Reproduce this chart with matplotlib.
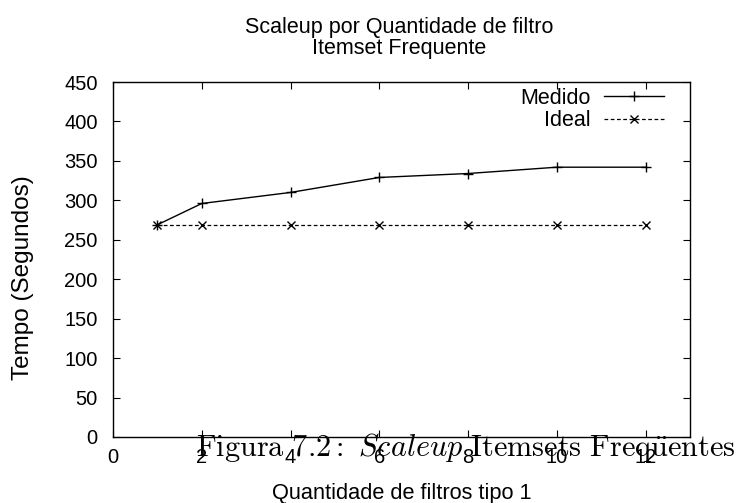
import matplotlib
matplotlib.use("Agg")
import matplotlib.pyplot as plt

plt.rcParams['font.family'] = ['Liberation Sans', 'DejaVu Sans']
plt.rcParams['mathtext.fontset'] = 'cm'

x_values = [1, 2, 4, 6, 8, 10, 12]
medido = [269, 296, 310, 329, 334, 342, 342]
ideal = [269, 269, 269, 269, 269, 269, 269]
x_ticks = [0, 2, 4, 6, 8, 10, 12]
y_ticks = [0, 50, 100, 150, 200, 250, 300, 350, 400, 450]

W, H = 737, 503
fig = plt.figure(figsize=(W/100, H/100), dpi=100)
ax = fig.add_axes([113/W, 1 - 437/H, (690-113)/W, (437-82)/H])

ax.plot(x_values, medido, color='black', linewidth=1.0, marker='+', markersize=7,
        markeredgewidth=1.0, label='Medido')
ax.plot(x_values, ideal, color='black', linewidth=0.9, linestyle=(0, (3, 2)), marker='x',
        markersize=6, markeredgewidth=1.0, label='Ideal')

ax.set_xlim(0, 13)
ax.set_ylim(0, 450)
ax.set_xticks(x_ticks)
ax.set_yticks(y_ticks)
ax.tick_params(direction='in', top=True, right=True, length=5, labelsize=14.5)
ax.tick_params(axis='x', pad=8)
ax.tick_params(axis='y', pad=11)
for s in ax.spines.values():
    s.set_linewidth(1.0)

ax.set_xlabel('Quantidade de filtros tipo 1', fontsize=15.7, va='baseline')
ax.xaxis.set_label_coords(0.5, (437 - 499.5) / 355)
ax.set_ylabel('Tempo (Segundos)', fontsize=17.5, va='center')
ax.yaxis.set_label_coords((23 - 113) / 577, (437 - 278) / 355)

fig.text(399/W, 1 - 33/H, 'Scaleup por Quantidade de filtro', fontsize=15.5,
         ha='center', va='baseline')
fig.text(399/W, 1 - 54/H, 'Itemset Frequente', fontsize=15.5,
         ha='center', va='baseline')

leg = ax.legend(loc='upper right', bbox_to_anchor=((664-113)/577, (437-88)/355),
                frameon=False, markerfirst=False, fontsize=15.5,
                handlelength=2.8, handletextpad=0.6, borderaxespad=0, borderpad=0,
                labelspacing=0.05)
for t in leg.get_texts():
    t.set_ha('right')

fig.text(196/W, 1 - 456/H,
         r"$\mathrm{Figura\ 7.2{:}\ }Scaleup\mathrm{\ Itemsets\ Freq\ddot{u}entes}$",
         fontsize=21.8, ha='left', va='baseline')

fig.savefig('out.png', dpi=100)
